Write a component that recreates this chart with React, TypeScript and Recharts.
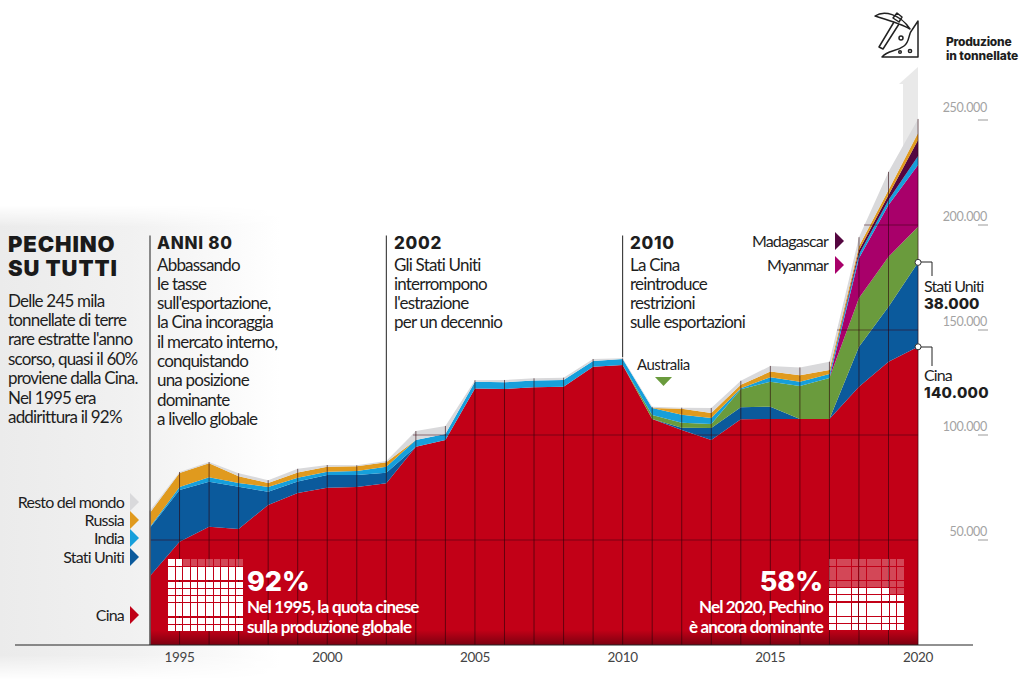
import { Area, AreaChart, ReferenceDot, ReferenceLine, XAxis, YAxis } from 'recharts'

const years = [1994, 1995, 1996, 1997, 1998, 1999, 2000, 2001, 2002, 2003, 2004, 2005, 2006, 2007, 2008, 2009, 2010, 2011, 2012, 2013, 2014, 2015, 2016, 2017, 2018, 2019, 2020]
const cina = [32900, 49200, 56300, 55200, 66700, 72400, 74900, 75200, 77000, 94400, 97600, 122200, 121900, 122700, 123000, 132500, 133300, 107600, 102400, 97600, 107500, 107600, 107600, 107600, 123000, 134900, 142000]
const statiUniti = [22900, 24600, 21400, 20100, 6300, 5400, 6000, 5700, 5000, 0, 0, 0, 0, 0, 0, 0, 0, 0, 1000, 5700, 5700, 5900, 0, 0, 19000, 26200, 40200]
const australia = [0, 0, 0, 0, 0, 0, 0, 0, 0, 0, 0, 0, 0, 0, 0, 0, 0, 1900, 2400, 1900, 8600, 11900, 15700, 19500, 23200, 23800, 17000]
const myanmar = [0, 0, 0, 0, 0, 0, 0, 0, 0, 0, 0, 0, 0, 0, 0, 0, 0, 0, 0, 0, 0, 0, 0, 0, 19000, 24600, 29400]
const india = [500, 1400, 2200, 1900, 2200, 1900, 1600, 2000, 2900, 3200, 2900, 3100, 3200, 3200, 3200, 2700, 2900, 3300, 3800, 2900, 500, 2100, 2000, 1900, 1900, 2400, 4300]
const madagascar = [0, 0, 0, 0, 0, 0, 0, 0, 0, 0, 0, 0, 0, 0, 0, 0, 0, 0, 0, 0, 0, 0, 0, 0, 1900, 2400, 7600]
const russia = [6700, 6700, 6700, 3200, 1900, 2400, 2400, 2200, 2100, 0, 0, 0, 0, 0, 0, 0, 0, 0, 2900, 2400, 1600, 2700, 3200, 1900, 1900, 2400, 3300]
const resto = [1000, 500, 500, 1400, 1400, 1800, 800, 500, 600, 4300, 3800, 800, 1100, 1100, 1100, 1000, 300, 600, 500, 2400, 1900, 2700, 3700, 4000, 4300, 8600, 6700]

const yTicks = [50000, 100000, 150000, 200000, 250000]
const xTicks = [1995, 2000, 2005, 2010, 2015, 2020]

const grigliaOrizzontale = [
  { value: 50000, from: 1994 },
  { value: 100000, from: 2002.9 },
  { value: 150000, from: 2017.26 },
  { value: 200000, from: 2018.17 },
]

const data = years.map((anno, i) => ({
  anno,
  cina: cina[i],
  statiUniti: statiUniti[i],
  australia: australia[i],
  myanmar: myanmar[i],
  india: india[i],
  madagascar: madagascar[i],
  russia: russia[i],
  resto: resto[i],
}))

const totali = data.map(d => d.cina + d.statiUniti + d.australia + d.myanmar + d.india + d.madagascar + d.russia + d.resto)

const serie = [
  { key: 'cina', fill: 'url(#rosso)' },
  { key: 'statiUniti', fill: '#0b5a9c' },
  { key: 'australia', fill: '#6a9b3d' },
  { key: 'myanmar', fill: '#a8006a' },
  { key: 'india', fill: '#169fdb' },
  { key: 'madagascar', fill: '#540640' },
  { key: 'russia', fill: '#e09a1e' },
  { key: 'resto', fill: '#d9d9db' },
]

const legendaSinistra = [
  { label: 'Resto del mondo', y: 502, color: '#d9d9db' },
  { label: 'Russia', y: 520, color: '#e09a1e' },
  { label: 'India', y: 538, color: '#169fdb' },
  { label: 'Stati Uniti', y: 557, color: '#0b5a9c' },
  { label: 'Cina', y: 615, color: '#c00017' },
]
const legendaDestra = [
  { label: 'Madagascar', y: 241, color: '#540640' },
  { label: 'Myanmar', y: 265, color: '#a8006a' },
]

const testoIntro = ['Delle 245 mila', 'tonnellate di terre', "rare estratte l'anno", 'scorso, quasi il 60%', 'proviene dalla Cina.', 'Nel 1995 era', 'addirittura il 92%']
const note = [
  { x: 157, title: 'ANNI 80', lines: ['Abbassando', 'le tasse', "sull'esportazione,", 'la Cina incoraggia', 'il mercato interno,', 'conquistando', 'una posizione', 'dominante', 'a livello globale'] },
  { x: 394, title: '2002', lines: ['Gli Stati Uniti', 'interrompono', "l'estrazione", 'per un decennio'] },
  { x: 630, title: '2010', lines: ['La Cina', 'reintroduce', 'restrizioni', 'sulle esportazioni'] },
]

const sans = 'Lato, sans-serif'
const black = 'Inter, sans-serif'

const righeWaffle = [7, 13.3, 6, 6, 6, 13.3, 6, 6.3]
const colonne92 = [1, 1, 1, 1, 1, 1, 1, 1, 1, 1]
const colonne58 = [1, 2, 1, 1, 2, 1, 1, 1]

function Testo({ x, y, right, children, size = 17, weight = 400, color = '#1e1e1e', family = sans, spacing = -0.8 }: any) {
  const h = Math.round(size * 1.1)
  return (
    <div
      style={{
        position: 'absolute',
        top: y - h / 2,
        height: h,
        lineHeight: h + 'px',
        ...(right !== undefined ? { right: 1024 - right, textAlign: 'right' } : { left: x }),
        fontFamily: family,
        fontSize: size,
        fontWeight: weight,
        color,
        letterSpacing: spacing,
        whiteSpace: 'nowrap',
      }}
    >
      {children}
    </div>
  )
}

function Triangolo({ x, y, color }: { x: number; y: number; color: string }) {
  return (
    <svg style={{ position: 'absolute', left: x, top: y - 9 }} width={10} height={18}>
      <polygon points="0,0 9,9 0,18" fill={color} />
    </svg>
  )
}

function Waffle({ x, y, colonne, piena }: { x: number; y: number; colonne: number[]; piena: (r: number, c: number) => boolean }) {
  const unita = colonne.reduce((a, b) => a + b, 0)
  const larghezza = 6.2 + 1.1
  const scala = (75 + 1.1) / (unita * larghezza)
  const celle: any[] = []
  let top = y
  righeWaffle.forEach((h, r) => {
    let left = x
    colonne.forEach((u, c) => {
      const w = u * larghezza * scala
      celle.push(
        <div
          key={r + '-' + c}
          style={{
            position: 'absolute',
            left,
            top,
            width: w - 1.1,
            height: h,
            background: piena(r, c) ? '#ffffff' : 'rgba(255,255,255,0.28)',
          }}
        />,
      )
      left += w
    })
    top += h + 1.15
  })
  return <>{celle}</>
}

const renderYTick = ({ y, payload }: any) => (
  <g>
    <text x={987} y={y - (payload.value === 250000 ? 12 : 8)} dy={4} textAnchor="end" fontFamily={sans} fontSize={12.5} letterSpacing={-0.3} fill="#a3a3a3">
      {payload.value.toLocaleString('de-DE')}
    </text>
    <line x1={978} x2={988} y1={y} y2={y} stroke="#9a9a9a" strokeWidth={1} />
  </g>
)

export default function App() {
  return (
    <div style={{ position: 'absolute', left: 0, top: 0, width: 1024, height: 680, overflow: 'hidden', background: '#fff' }}>
      <div
        style={{
          position: 'absolute',
          left: 0,
          top: 205,
          width: 290,
          height: 475,
          background: 'linear-gradient(to right, #ebebeb 0, #f1f1f1 130px, #ffffff 280px)',
          WebkitMaskImage: 'linear-gradient(to bottom, transparent 0, #000 22px, #000 450px, transparent 475px)',
        }}
      />
      <svg style={{ position: 'absolute', left: 0, top: 0 }} width={1024} height={680}>
        <polygon points="918,67 899,84 903,84 903,175 918,175" fill="#e9e9e9" />
      </svg>

      <div style={{ position: 'absolute', left: 0, top: 0 }}>
        <AreaChart width={1024} height={680} data={data} margin={{ top: 15, right: 50, bottom: 0, left: 15 }}>
          <defs>
            <linearGradient id="rosso" x1="0" y1="0" x2="0" y2="1">
              <stop offset="0.95" stopColor="#c20017" />
              <stop offset="1" stopColor="#7c0010" />
            </linearGradient>
          </defs>
          <XAxis
            dataKey="anno"
            type="number"
            domain={[1989.43, 2021.86]}
            ticks={xTicks}
            height={35}
            tickLine={false}
            axisLine={{ stroke: '#222', strokeWidth: 1 }}
            tick={{ fontFamily: sans, fontSize: 13.5, fill: '#444', letterSpacing: -0.3 }}
            tickMargin={1}
          />
          <YAxis
            orientation="right"
            width={1}
            domain={[0, 300000]}
            ticks={yTicks}
            interval={0}
            axisLine={false}
            tickLine={false}
            tick={renderYTick}
          />
          {serie.map(s => (
            <Area
              key={s.key}
              type="linear"
              dataKey={s.key}
              stackId="1"
              fill={s.fill}
              fillOpacity={1}
              stroke="none"
              dot={false}
              activeDot={false}
              isAnimationActive={false}
            />
          ))}
          {years.map((anno, i) => (
            <ReferenceLine
              key={anno}
              segment={[{ x: anno, y: 0 }, { x: anno, y: totali[i] }]}
              stroke="#2a0008"
              strokeOpacity={0.6}
              strokeWidth={1}
            />
          ))}
          {grigliaOrizzontale.map(g => (
            <ReferenceLine
              key={g.value}
              segment={[{ x: g.from, y: g.value }, { x: 2020, y: g.value }]}
              stroke="#3a0010"
              strokeOpacity={0.65}
              strokeWidth={0.8}
            />
          ))}
          <ReferenceLine segment={[{ x: 1994, y: 0 }, { x: 1994, y: 195000 }]} stroke="#666" strokeWidth={1.5} />
          <ReferenceLine segment={[{ x: 2002, y: 82000 }, { x: 2002, y: 195000 }]} stroke="#222" strokeWidth={1} />
          <ReferenceLine segment={[{ x: 2010, y: 137000 }, { x: 2010, y: 195000 }]} stroke="#222" strokeWidth={1} />
          <ReferenceDot x={2020} y={cina[26]} r={3} fill="#fff" stroke="#333" strokeWidth={1} />
          <ReferenceDot x={2020} y={cina[26] + statiUniti[26]} r={3} fill="#fff" stroke="#333" strokeWidth={1} />
        </AreaChart>
      </div>

      <svg style={{ position: 'absolute', left: 0, top: 0 }} width={1024} height={680} fill="none" stroke="#222">
        <polyline points="921,262 932,262 932,276" strokeWidth={1} />
        <polyline points="921,347 932,347 932,366" strokeWidth={1} />
        <polygon points="655,377 672,377 663.5,386" fill="#6a9b3d" stroke="none" />
        <g strokeWidth={1.5} strokeLinejoin="round">
          <path d="M875 16 C884 10 900 14 910 29 C902 24 888 20 875 16 Z" />
          <path d="M893 18 L897 13 L902 17 L899 22 Z" />
          <path d="M894 22 L879 47 L883 49 L899 24" />
          <path d="M918 21 L918 57 L882 57 C888 50 896 52 904 46 C910 42 908 34 912 30 Z" />
          <circle cx={901} cy={38} r={2} />
          <circle cx={900} cy={52} r={1.3} />
          <circle cx={910} cy={51} r={1.6} />
        </g>
      </svg>

      <div
        style={{
          position: 'absolute',
          left: 8,
          top: 233,
          lineHeight: '23.5px',
          fontFamily: black,
          fontSize: 22,
          fontWeight: 900,
          letterSpacing: 0.9,
          color: '#1a1a1a',
          whiteSpace: 'nowrap',
        }}
      >
        PECHINO
        <br />
        SU TUTTI
      </div>
      {testoIntro.map((riga, i) => (
        <Testo key={riga} x={8} y={300 + i * 19.4}>{riga}</Testo>
      ))}

      {note.map(n => (
        <div key={n.title}>
          <Testo x={n.x} y={243} size={17} weight={800} family={black} spacing={0.7}>{n.title}</Testo>
          {n.lines.map((riga, i) => (
            <Testo key={riga} x={n.x} y={264 + i * 19.3}>{riga}</Testo>
          ))}
        </div>
      ))}

      <Testo x={637} y={364} size={15} spacing={-0.55}>Australia</Testo>

      {legendaSinistra.map(l => (
        <div key={l.label}>
          <Testo right={124} y={l.y} size={16}>{l.label}</Testo>
          <Triangolo x={130} y={l.y} color={l.color} />
        </div>
      ))}
      {legendaDestra.map(l => (
        <div key={l.label}>
          <Testo right={828} y={l.y} size={16}>{l.label}</Testo>
          <Triangolo x={835} y={l.y} color={l.color} />
        </div>
      ))}

      <Testo x={946} y={41} size={12} weight={800} family={black} spacing={-0.25}>Produzione</Testo>
      <Testo x={946} y={55} size={12} weight={800} family={black} spacing={-0.1}>in tonnellate</Testo>

      <Testo x={924} y={286} size={16} spacing={-0.9}>Stati Uniti</Testo>
      <Testo x={924} y={303} size={15} weight={800} family={black} spacing={0}>38.000</Testo>
      <Testo x={924} y={374.5} size={16} spacing={-0.9}>Cina</Testo>
      <Testo x={924} y={392} size={15} weight={800} family={black} spacing={0.3}>140.000</Testo>

      <Waffle x={168} y={559} colonne={colonne92} piena={(r, c) => r > 0 || c < 2} />
      <Testo x={247} y={582} size={27} weight={800} family={black} spacing={0} color="#fff">92%</Testo>
      <Testo x={247} y={606} size={17} weight={700} spacing={-0.75} color="#fff">Nel 1995, la quota cinese</Testo>
      <Testo x={247} y={626} size={17} weight={700} spacing={-0.75} color="#fff">sulla produzione globale</Testo>

      <Waffle x={829} y={558.5} colonne={colonne58} piena={(r, c) => (r >= 3 && c < 6) || r >= 4} />
      <Testo right={823} y={582} size={27} weight={800} family={black} spacing={0} color="#fff">58%</Testo>
      <Testo right={823} y={606} size={17} weight={700} spacing={-0.85} color="#fff">Nel 2020, Pechino</Testo>
      <Testo right={823} y={626} size={17} weight={700} spacing={-0.85} color="#fff">è ancora dominante</Testo>
    </div>
  )
}
